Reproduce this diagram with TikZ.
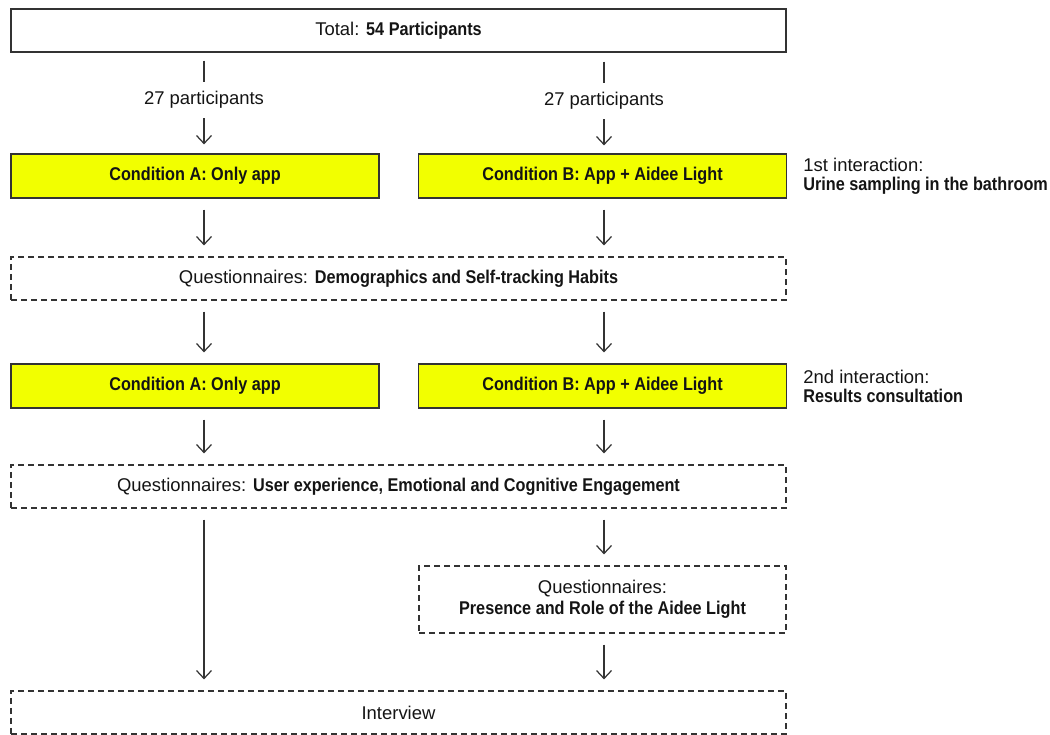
\documentclass[tikz,border=0pt]{standalone}
\usepackage{fontspec}
\setmainfont{Liberation Sans}[BoldFeatures={FakeStretch=0.88}]
\usepackage{tikz}
\usetikzlibrary{arrows.meta, positioning}
\definecolor{condyellow}{RGB}{242,255,0}
\definecolor{linegray}{RGB}{51,51,51}
\definecolor{textblack}{RGB}{20,20,20}
\tikzstyle{total} = [rectangle, minimum width=15.5cm, minimum height=0.86cm, text centered, draw=linegray, line width=0.7pt]
\tikzstyle{condition} = [rectangle, minimum width=7.36cm, minimum height=0.88cm, text centered, draw=linegray, fill=condyellow, line width=0.7pt, font=\fontsize{10.5}{12}\selectfont\bfseries]
\tikzstyle{quest} = [rectangle, minimum width=15.5cm, minimum height=0.86cm, text centered, draw=linegray, dash pattern=on 0.12cm off 0.08cm, line width=0.7pt]
\tikzstyle{questhalf} = [quest, minimum width=7.34cm, minimum height=1.34cm, align=center, font=\fontsize{10.5}{12}\selectfont]
\tikzstyle{countlabel} = [minimum height=0.72cm, inner sep=0pt]
\tikzstyle{note} = [anchor=west, align=left, inner sep=0pt, font=\fontsize{10.5}{10.8}\selectfont]
\tikzstyle{connector} = [line width=0.7pt, draw=linegray]
\tikzstyle{arrow} = [connector, ->, >={Straight Barb[length=1.6mm, width=3mm]}, shorten <=0.22cm, shorten >=0.22cm]

\begin{document}
\begin{tikzpicture}[x=0.02cm, y=-0.02cm, font=\fontsize{10.5}{12}\selectfont, text=textblack]
    \useasboundingbox (0,0) rectangle (1050,734);
    % columns of the two conditions
    \coordinate (colA) at (204,0);
    \coordinate (colB) at (604,0);

    \node (total) [total] at (398.5,30.5) {Total: \textbf{54 Participants}};
    \node (countA) [countlabel] at (204,100) {27 participants};
    \node (countB) [countlabel] at (604,101) {27 participants};

    \node (condA) [condition] at (195,176) {Condition A: Only app};
    \node (condB) [condition] at (602.5,176) {Condition B: App + Aidee Light};
    \node (note1) [note, right=0.32cm of condB] {1st interaction:\\\textbf{Urine sampling in the bathroom}};

    \node (quest1) [quest] at (398.5,278.5) {Questionnaires: \textbf{Demographics and Self-tracking Habits}};

    \node (condA2) [condition] at (195,386) {Condition A: Only app};
    \node (condB2) [condition] at (602.5,386) {Condition B: App + Aidee Light};
    \node (note2) [note, right=0.32cm of condB2] {2nd interaction:\\\textbf{Results consultation}};

    \node (quest2) [quest] at (398.5,486.5) {Questionnaires: \textbf{User experience, Emotional and Cognitive Engagement}};
    \node (quest3) [questhalf] at (602.5,599.5) {Questionnaires:\\\textbf{Presence and Role of the Aidee Light}};
    \node (interview) [quest] at (398.5,712.5) {Interview};

    \draw [connector, shorten <=0.16cm] (total.south -| countA) -- (countA.north);
    \draw [connector, shorten <=0.18cm] (total.south -| countB) -- (countB.north);
    \draw [arrow, shorten <=0cm, shorten >=0.18cm] (countA.south) -- (condA.north -| countA);
    \draw [arrow, shorten <=0cm, shorten >=0.16cm] (countB.south) -- (condB.north -| countB);

    \draw [arrow] (condA.south -| colA) -- (quest1.north -| colA);
    \draw [arrow] (condB.south -| colB) -- (quest1.north -| colB);
    \draw [arrow] (quest1.south -| colA) -- (condA2.north -| colA);
    \draw [arrow] (quest1.south -| colB) -- (condB2.north -| colB);
    \draw [arrow] (condA2.south -| colA) -- (quest2.north -| colA);
    \draw [arrow] (condB2.south -| colB) -- (quest2.north -| colB);
    \draw [arrow] (quest2.south -| colA) -- (interview.north -| colA);
    \draw [arrow] (quest2.south -| colB) -- (quest3.north -| colB);
    \draw [arrow] (quest3.south -| colB) -- (interview.north -| colB);
\end{tikzpicture}
\end{document}
